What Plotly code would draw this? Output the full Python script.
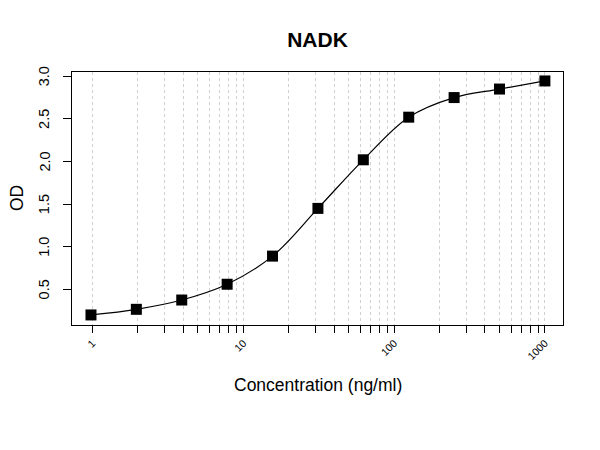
import plotly.graph_objects as go

# Standard curve data (two-fold dilutions from 1000 ng/ml)
conc = [0.977, 1.953, 3.906, 7.8125, 15.625, 31.25, 62.5, 125, 250, 500, 1000]
od = [0.20, 0.266, 0.375, 0.56, 0.89, 1.45, 2.02, 2.52, 2.75, 2.85, 2.945]

# log axis ticks: every 1..9 per decade, labels only at decades
tick_vals = [m * 10 ** d for d in range(0, 3) for m in range(1, 10)] + [1000]
tick_text = [str(v) if v in (1, 10, 100, 1000) else '' for v in tick_vals]
y_ticks = [0.5, 1.0, 1.5, 2.0, 2.5, 3.0]
y_text = ['0.5', '1.0', '1.5', '2.0', '2.5', '3.0']
y_range = [0.082, 3.05]

fig = go.Figure()

fig.add_trace(go.Scatter(
    x=conc, y=od,
    mode='lines+markers',
    line=dict(color='black', width=1.2, shape='spline', smoothing=1.0),
    marker=dict(symbol='square', size=11, color='black'),
    showlegend=False,
))

font = 'Liberation Sans, Arial, sans-serif'

# y tick labels as annotations on the y scale, set back from the axis like R does
y_labels = [dict(text=t, x=-0.057, y=v, xref='paper', yref='y', textangle=-90,
                 showarrow=False, xanchor='center', yanchor='middle',
                 font=dict(size=14.5))
            for v, t in zip(y_ticks, y_text)]

# page body adds an 8px offset, so margins are trimmed on left/top
fig.update_layout(
    width=600, height=450,
    margin=dict(l=64, r=45, t=64, b=133),
    paper_bgcolor='white', plot_bgcolor='white',
    font=dict(family=font, color='black'),
    title=dict(text='<b>NADK</b>', x=0.5, xref='paper', xanchor='center',
               y=1 - 32 / 450, yanchor='middle', yref='container',
               font=dict(size=21, family=font)),
    xaxis=dict(
        type='log', range=[-0.136, 3.12],
        tickvals=tick_vals, ticktext=tick_text,
        tickangle=-45, tickfont=dict(size=10.5),
        ticks='outside', ticklen=7, tickcolor='black',
        showgrid=True, gridcolor='#d0d0d0', griddash='dot', gridwidth=1,
        showline=True, linecolor='black', linewidth=1, mirror=True,
        zeroline=False,
    ),
    yaxis=dict(
        range=y_range, tickvals=y_ticks, showticklabels=False,
        ticks='outside', ticklen=8, tickcolor='black',
        showgrid=False,
        showline=True, linecolor='black', linewidth=1, mirror=True,
        zeroline=False,
    ),
    annotations=y_labels + [
        dict(text='Concentration (ng/ml)', x=0.5, y=-0.237,
             xref='paper', yref='paper', showarrow=False,
             xanchor='center', yanchor='middle', font=dict(size=17.5)),
        dict(text='OD', x=-0.113, y=0.5, textangle=-90,
             xref='paper', yref='paper', showarrow=False,
             xanchor='center', yanchor='middle', font=dict(size=17.5)),
    ],
)

fig.write_html('out.html')
